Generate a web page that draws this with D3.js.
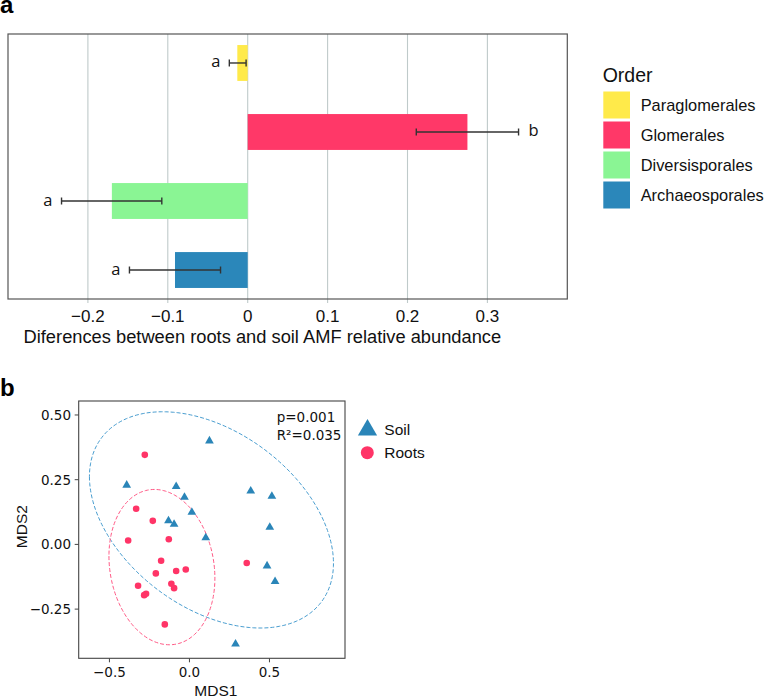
<!DOCTYPE html>
<html><head><meta charset="utf-8">
<script src="https://cdn.jsdelivr.net/npm/d3@7"></script>
<style>body{margin:0;background:#fff}svg{display:block}</style>
</head><body>
<svg id="chart" width="765" height="699"></svg>
<script>
// ---------- Panel a data ----------
const orders = ["Paraglomerales","Glomerales","Diversisporales","Archaeosporales"];
const orderColors = ["#FFEA4A","#FF3868","#8AF594","#2B87BA"];
const diffValues = [-0.013, 0.275, -0.170, -0.091];
const errLow = [-0.023, 0.211, -0.233, -0.148];
const errHigh = [-0.002, 0.339, -0.1075, -0.034];
const letters = ["a","b","a","a"];
const xTicksA = [-0.2,-0.1,0,0.1,0.2,0.3];

// ---------- Panel b data ----------
const soilX = [0.125,-0.392,-0.083,-0.031,0.015,-0.131,-0.096,0.102,0.383,0.515,0.502,0.485,0.535,0.288];
const soilY = [0.400,0.229,0.224,0.182,0.124,0.091,0.078,0.026,0.206,0.186,0.066,-0.083,-0.143,-0.385];
const rootsX = [-0.279,-0.333,-0.229,-0.383,-0.129,-0.177,-0.083,-0.023,-0.210,-0.321,-0.271,-0.113,-0.096,-0.283,-0.154,0.358];
const rootsY = [0.346,0.138,0.091,0.015,0.020,-0.063,-0.103,-0.097,-0.112,-0.160,-0.191,-0.152,-0.169,-0.196,-0.309,-0.072];
// ellipses: center, and two conjugate semi-axis vectors (data units)
const soilEllipse = {cx:0.1375, cy:0.0947, ax:-0.7625, ay:0.1674, bx:0, by:-0.3827};
const rootsEllipse = {cx:-0.172, cy:-0.0877, ax:-0.331, ay:0.0425, bx:0, by:-0.297};
const xTicksB = [-0.5,0.0,0.5];
const yTicksB = [0.50,0.25,0.00,-0.25];
const groups = ["Soil","Roots"];
const groupColors = ["#2A85B8","#FF3467"];
const ellipseColors = ["#4A9ED0","#FF5A86"];

const svg = d3.select("#chart");
const sans = "'Liberation Sans', Arial, sans-serif";

// ===== Panel a =====
svg.append("text").attr("x",0).attr("y",12.7).attr("font-family",sans).attr("font-weight","bold")
  .attr("font-size",24).text("a");

const A = {l:8, r:567.3, t:34, b:299};
const xa = d3.scaleLinear().domain([-0.3,0.4]).range([A.l, A.r]);
const ya = d3.scaleBand().domain(orders).range([A.t, A.b]).paddingInner(0.48).paddingOuter(0.16);

const ga = svg.append("g");
// grid
ga.selectAll("line.grid").data(xTicksA).join("line")
  .attr("x1",d=>xa(d)).attr("x2",d=>xa(d)).attr("y1",A.t).attr("y2",A.b+4)
  .attr("stroke","#BFCACA").attr("stroke-width",1.1);
// bars
ga.selectAll("rect.bar").data(orders).join("rect")
  .attr("x",(d,i)=>Math.min(xa(0),xa(diffValues[i])))
  .attr("width",(d,i)=>Math.abs(xa(diffValues[i])-xa(0)))
  .attr("y",d=>ya(d)).attr("height",ya.bandwidth())
  .attr("fill",(d,i)=>orderColors[i]);
// error bars
orders.forEach((o,i)=>{
  const cy = ya(o)+ya.bandwidth()/2;
  const g = ga.append("g").attr("stroke","#333").attr("stroke-width",1.4);
  g.append("line").attr("x1",xa(errLow[i])).attr("x2",xa(errHigh[i])).attr("y1",cy).attr("y2",cy);
  [errLow[i],errHigh[i]].forEach(v=>g.append("line").attr("x1",xa(v)).attr("x2",xa(v)).attr("y1",cy-3.5).attr("y2",cy+3.5));
  const neg = diffValues[i] < 0;
  ga.append("text").attr("x", neg ? xa(errLow[i])-9 : xa(errHigh[i])+10)
    .attr("y",cy+4.5).attr("text-anchor",neg?"end":"start")
    .attr("font-family","'Open Sans', sans-serif").attr("font-size",16.5).attr("fill","#111")
    .text(letters[i]);
});
// frame
ga.append("rect").attr("x",A.l).attr("y",A.t).attr("width",A.r-A.l).attr("height",A.b-A.t)
  .attr("fill","none").attr("stroke","#555").attr("stroke-width",1.2);
// tick labels
ga.selectAll("text.tick").data(xTicksA).join("text")
  .attr("x",d=>xa(d)).attr("y",321.8).attr("text-anchor","middle")
  .attr("font-family",sans).attr("font-size",17).attr("fill","#111")
  .text(d=>d===0?"0":d3.format(".1f")(d));
ga.append("text").attr("x",(18+506.7)/2).attr("y",343).attr("text-anchor","middle")
  .attr("font-family",sans).attr("font-size",18.3).attr("fill","#111")
  .text("Diferences between roots and soil AMF relative abundance");
// legend
const lg = svg.append("g");
lg.append("text").attr("x",602.7).attr("y",81.7).attr("font-family",sans).attr("font-size",19.5)
  .attr("fill","#111").text("Order");
const ly = d3.scaleBand().domain(orders).range([90,210]).paddingInner(0.1).paddingOuter(0.05);
lg.selectAll("rect").data(orders).join("rect")
  .attr("x",603.3).attr("width",26.7).attr("y",d=>ly(d)).attr("height",ly.bandwidth())
  .attr("fill",(d,i)=>orderColors[i]);
lg.selectAll("text.item").data(orders).join("text")
  .attr("x",640.7).attr("y",d=>ly(d)+ly.bandwidth()/2+6)
  .attr("font-family",sans).attr("font-size",16.4).attr("fill","#111").text(d=>d);

// ===== Panel b =====
svg.append("text").attr("x",0).attr("y",396).attr("font-family",sans).attr("font-weight","bold")
  .attr("font-size",24).text("b");
const B = {l:78.7, r:345, t:401, b:658.3};
const xb = d3.scaleLinear().domain([-0.692,0.972]).range([B.l,B.r]);
const yb = d3.scaleLinear().domain([-0.44,0.554]).range([B.b,B.t]);
const gb = svg.append("g");
const dv = "'DejaVu Sans', sans-serif";

// ellipses
const line = d3.line().x(d=>xb(d[0])).y(d=>yb(d[1])).curve(d3.curveLinearClosed);
[soilEllipse, rootsEllipse].forEach((e,i)=>{
  const pts = d3.range(0,360,2).map(a=>{const t=a*Math.PI/180;
    return [e.cx+e.ax*Math.cos(t)+e.bx*Math.sin(t), e.cy+e.ay*Math.cos(t)+e.by*Math.sin(t)];});
  gb.append("path").attr("d",line(pts)).attr("fill","none").attr("stroke",ellipseColors[i])
    .attr("stroke-width",1).attr("stroke-dasharray","4,2");
});
// points
const tri = d3.symbol().type(d3.symbolTriangle).size(33);
gb.selectAll("path.soil").data(soilX).join("path")
  .attr("d",tri).attr("transform",(d,i)=>`translate(${xb(d)},${yb(soilY[i])})`)
  .attr("fill",groupColors[0]);
gb.selectAll("circle.root").data(rootsX).join("circle")
  .attr("cx",d=>xb(d)).attr("cy",(d,i)=>yb(rootsY[i])).attr("r",3.3)
  .attr("fill",groupColors[1]);
// frame
gb.append("rect").attr("x",B.l).attr("y",B.t).attr("width",B.r-B.l).attr("height",B.b-B.t)
  .attr("fill","none").attr("stroke","#444").attr("stroke-width",1.1);
// axes ticks
gb.selectAll("line.xt").data(xTicksB).join("line")
  .attr("x1",d=>xb(d)).attr("x2",d=>xb(d)).attr("y1",B.b).attr("y2",B.b+4).attr("stroke","#444");
gb.selectAll("line.yt").data(yTicksB).join("line")
  .attr("y1",d=>yb(d)).attr("y2",d=>yb(d)).attr("x1",B.l-4).attr("x2",B.l).attr("stroke","#444");
const fmtB = d=>d3.format(".1f")(d).replace("-","\u2212");
const fmtB2 = d=>d3.format(".2f")(d).replace("-","\u2212");
gb.selectAll("text.xl").data(xTicksB).join("text")
  .attr("x",d=>xb(d)).attr("y",677).attr("text-anchor","middle")
  .attr("font-family",dv).attr("font-size",13.5).attr("fill","#111").text(fmtB);
gb.selectAll("text.yl").data(yTicksB).join("text")
  .attr("x",71).attr("y",d=>yb(d)+5).attr("text-anchor","end")
  .attr("font-family",dv).attr("font-size",13.5).attr("fill","#111").text(fmtB2);
gb.append("text").attr("x",(B.l+B.r)/2+4).attr("y",695.5).attr("text-anchor","middle")
  .attr("font-family",sans).attr("font-size",15.5).attr("fill","#111").text("MDS1");
gb.append("text").attr("transform",`translate(27,${(B.t+B.b)/2-3}) rotate(-90)`).attr("text-anchor","middle")
  .attr("font-family",sans).attr("font-size",15.5).attr("fill","#111").text("MDS2");
// annotation
gb.append("text").attr("x",276.7).attr("y",421.7).attr("font-family",dv).attr("font-size",13.5)
  .attr("fill","#111").text("p=0.001");
gb.append("text").attr("x",276.7).attr("y",440).attr("font-family",dv).attr("font-size",13.5)
  .attr("fill","#111").text("R\u00B2=0.035");
// legend b
const lb = svg.append("g");
lb.append("path").attr("d",d3.symbol().type(d3.symbolTriangle).size(160)())
  .attr("transform","translate(367.5,430)").attr("fill",groupColors[0]);
lb.append("circle").attr("cx",367.3).attr("cy",452.7).attr("r",6.5).attr("fill",groupColors[1]);
lb.selectAll("text").data(groups).join("text")
  .attr("x",384.3).attr("y",(d,i)=>435+i*23.3)
  .attr("font-family",sans).attr("font-size",15.5).attr("fill","#111").text(d=>d);
</script>
</body></html>
